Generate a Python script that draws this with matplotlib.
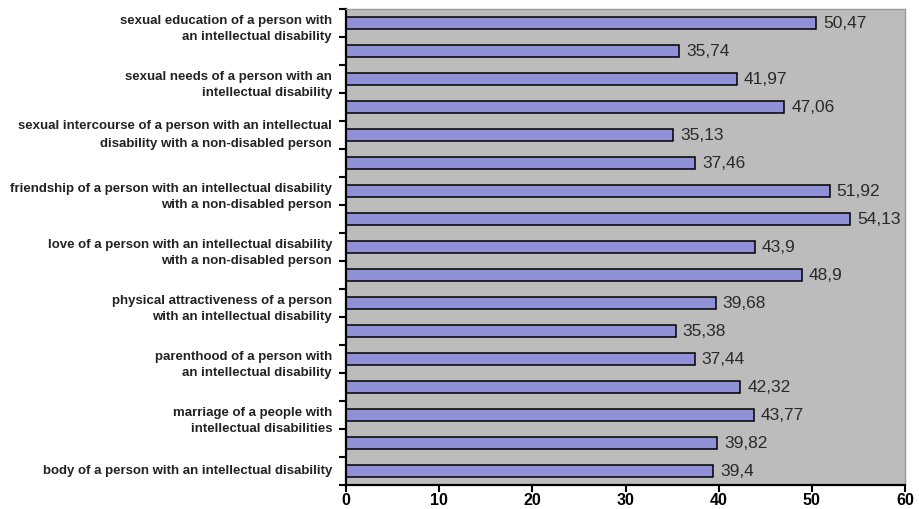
import numpy as np
import matplotlib
matplotlib.use("Agg")
import matplotlib.pyplot as plt

plt.rcParams["font.family"] = ["Liberation Sans", "DejaVu Sans"]

# values, top to bottom
values = [50.47, 35.74, 41.97, 47.06, 35.13, 37.46, 51.92, 54.13, 43.9,
          48.9, 39.68, 35.38, 37.44, 42.32, 43.77, 39.82, 39.4]

# labels sit on every second bar (0, 2, 4, ...)
labels = [
    "sexual education of a person with\nan intellectual disability",
    "sexual needs of a person with an\nintellectual disability",
    "sexual intercourse of a person with an intellectual\ndisability with a non-disabled person",
    "friendship of a person with an intellectual disability\nwith a non-disabled person",
    "love of a person with an intellectual disability\nwith a non-disabled person",
    "physical attractiveness of a person\nwith an intellectual disability",
    "parenthood of a person with\nan intellectual disability",
    "marriage of a people with\nintellectual disabilities",
    "body of a person with an intellectual disability",
]
xticks = [0, 10, 20, 30, 40, 50, 60]

fig = plt.figure(figsize=(9.2, 5.09), dpi=100)
ax = fig.add_axes([346 / 920, 1 - 485 / 509, (905 - 346) / 920, (485 - 9) / 509])
ax.set_facecolor("#bcbcbc")

y = np.arange(len(values))
ax.barh(y, values, height=0.42, color="#9090d6", edgecolor="black", linewidth=1.1, zorder=2)

for yi, v in zip(y, values):
    txt = f"{v:g}".replace(".", ",")
    ax.annotate(txt, xy=(v, yi), xytext=(5, 0), textcoords="offset points",
                va="center", ha="left", fontsize=12.5, color="#2a2a2a")

ax.set_xlim(0, 60)
ax.set_ylim(len(values) - 0.5, -0.5)
ax.set_xticks(xticks)
ax.set_xticklabels([str(t) for t in xticks], fontweight="bold", fontsize=11.5)
ax.tick_params(axis="x", length=5, width=1.5, direction="out", pad=0.5)

# boundary ticks on the y axis, labels placed by hand
ax.set_yticks(np.arange(len(values) + 1) - 0.5)
ax.set_yticklabels([])
ax.tick_params(axis="y", length=5, width=1.5, direction="out")

for k, lab in enumerate(labels):
    pos = 2 * k
    if "\n" in lab and k != 2:
        ax.annotate(lab, xy=(0, pos), xycoords=("axes fraction", "data"),
                    xytext=(-10, 6), textcoords="offset points",
                    ha="right", va="top", multialignment="right",
                    fontsize=9.5, fontweight="bold", color="#222222", linespacing=1.45)
    else:
        ax.annotate(lab, xy=(0, pos), xycoords=("axes fraction", "data"),
                    xytext=(-10, 0), textcoords="offset points",
                    ha="right", va="center", multialignment="right",
                    fontsize=9.5, fontweight="bold", color="#222222", linespacing=1.75)

for side in ["top", "right"]:
    ax.spines[side].set_color("#9a9a9a")
    ax.spines[side].set_linewidth(1)
for side in ["left", "bottom"]:
    ax.spines[side].set_color("black")
    ax.spines[side].set_linewidth(1.6)

fig.savefig("out.png", dpi=100)
